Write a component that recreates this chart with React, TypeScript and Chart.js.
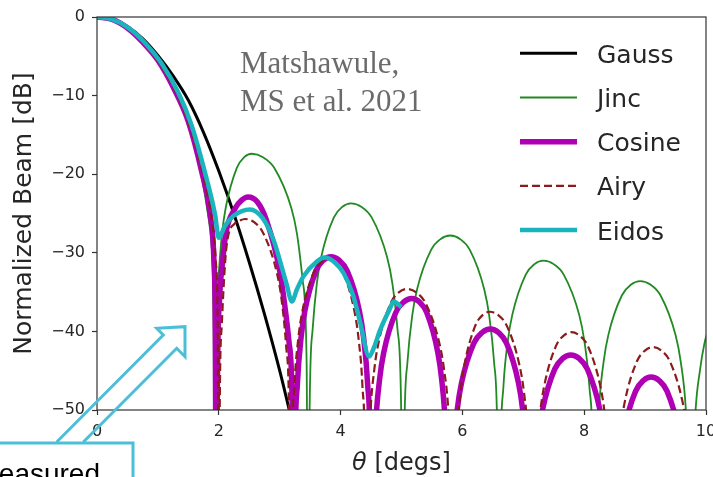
import React, { useEffect, useRef } from "react";
import { Chart, registerables } from "chart.js";

Chart.register(...registerables);

// Normalized beam patterns, theta in degrees, level in dB (values below -50 dB fall outside the axes).
const gaussTheta = [0, 0.25, 0.5, 0.75, 1.0, 1.25, 1.5, 1.75, 2.0, 2.25, 2.5, 2.75, 3.0, 3.25];
const gaussDb = [0, -0.3, -1.2, -2.75, -4.9, -7.5, -10.6, -14.7, -19.6, -25.1, -31.2, -37.8, -45.0, -53.0];

const jincTheta = [
  0, 0.25, 0.5, 0.75, 1.0, 1.25, 1.5, 1.7, 1.82, 1.88, 1.915, 1.93,
  1.948, 1.991, 2.052, 2.113, 2.296, 2.418, 2.54, 2.726, 2.912, 3.191, 3.284, 3.377, 3.442, 3.47,
  3.491, 3.54, 3.61, 3.68, 3.89, 4.03, 4.17, 4.34, 4.51, 4.765, 4.85, 4.935, 4.995, 5.02,
  5.043, 5.098, 5.176, 5.254, 5.488, 5.644, 5.8, 5.96, 6.12, 6.36, 6.44, 6.52, 6.576, 6.6,
  6.622, 6.673, 6.746, 6.819, 7.038, 7.184, 7.33, 7.498, 7.666, 7.918, 8.002, 8.086, 8.145, 8.17,
  8.193, 8.245, 8.32, 8.395, 8.62, 8.77, 8.92, 9.086, 9.252, 9.501, 9.584, 9.667, 9.725, 9.75,
  9.772, 9.825, 9.9, 9.975, 10.05,
];
const jincDb = [
  0, -0.3, -1.4, -3.2, -5.6, -8.9, -13.5, -19.6, -25, -29, -40, -80,
  -43.9, -33.5, -27.6, -24.3, -19.2, -17.84, -17.4, -17.84, -19.2, -24.3, -27.6, -33.5, -43.9, -80,
  -50.2, -39.8, -33.9, -30.6, -25.5, -24.14, -23.7, -24.14, -25.5, -30.6, -33.9, -39.8, -50.2, -80,
  -54.3, -43.9, -38.0, -34.7, -29.6, -28.24, -27.8, -28.24, -29.6, -34.7, -38.0, -43.9, -54.3, -80,
  -57.5, -47.1, -41.2, -37.9, -32.8, -31.44, -31.0, -31.44, -32.8, -37.9, -41.2, -47.1, -57.5, -80,
  -60.1, -49.7, -43.8, -40.5, -35.4, -34.04, -33.6, -34.04, -35.4, -40.5, -43.8, -49.7, -60.1, -80,
  -61, -50.5, -45, -41.5, -39.5,
];

const cosineTheta = [
  0, 0.25, 0.5, 0.75, 1.0, 1.25, 1.5, 1.72, 1.86, 1.92, 1.945, 1.96,
  1.976, 2.012, 2.064, 2.116, 2.272, 2.376, 2.48, 2.63, 2.78, 3.005, 3.08, 3.155, 3.208, 3.23,
  3.248, 3.291, 3.352, 3.413, 3.596, 3.718, 3.84, 3.974, 4.108, 4.309, 4.376, 4.443, 4.49, 4.51,
  4.53, 4.576, 4.642, 4.708, 4.906, 5.038, 5.17, 5.292, 5.414, 5.597, 5.658, 5.719, 5.762, 5.78,
  5.8, 5.848, 5.916, 5.984, 6.188, 6.324, 6.46, 6.592, 6.724, 6.922, 6.988, 7.054, 7.1, 7.12,
  7.14, 7.186, 7.252, 7.318, 7.516, 7.648, 7.78, 7.916, 8.052, 8.256, 8.324, 8.392, 8.44, 8.46,
  8.479, 8.524, 8.588, 8.652, 8.844, 8.972, 9.1, 9.23, 9.36, 9.555, 9.62, 9.685, 9.73, 9.75,
  10.0,
];
const cosineDb = [
  0, -0.3, -1.4, -3.2, -5.5, -8.9, -13.3, -19.7, -25.2, -31, -42, -80,
  -48, -36, -31, -27.5, -24.3, -23.3, -22.9, -23.5, -25.8, -32.5, -36.5, -41.5, -50.5, -80,
  -57, -46.6, -40.7, -37.4, -32.3, -30.94, -30.5, -30.94, -32.3, -37.4, -40.7, -46.6, -57, -80,
  -62.3, -51.9, -46.0, -42.7, -37.6, -36.24, -35.8, -36.24, -37.6, -42.7, -46.0, -51.9, -62.3, -80,
  -66.2, -55.8, -49.9, -46.6, -41.5, -40.14, -39.7, -40.14, -41.5, -46.6, -49.9, -55.8, -66.2, -80,
  -69.5, -59.1, -53.2, -49.9, -44.8, -43.44, -43.0, -43.44, -44.8, -49.9, -53.2, -59.1, -69.5, -80,
  -72.3, -61.9, -56, -52.7, -47.6, -46.24, -45.8, -46.24, -47.6, -52.7, -56, -61.9, -72.3, -80,
  -60,
];

const airyTheta = [
  0, 0.25, 0.5, 0.75, 1.0, 1.25, 1.5, 1.73, 1.88, 1.95, 1.985, 2.0,
  2.015, 2.05, 2.13, 2.26, 2.344, 2.43, 2.58, 2.73, 2.955, 3.03, 3.105, 3.158, 3.18,
  3.199, 3.242, 3.304, 3.366, 3.552, 3.676, 3.8, 3.924, 4.048, 4.234, 4.296, 4.358, 4.401, 4.42,
  4.44, 4.487, 4.554, 4.621, 4.822, 4.956, 5.09, 5.242, 5.394, 5.622, 5.698, 5.774, 5.827, 5.85,
  5.868, 5.91, 5.97, 6.03, 6.21, 6.33, 6.45, 6.59, 6.73, 6.94, 7.01, 7.08, 7.129, 7.15,
  7.169, 7.214, 7.278, 7.342, 7.534, 7.662, 7.79, 7.926, 8.062, 8.266, 8.334, 8.402, 8.45, 8.47,
  8.49, 8.536, 8.602, 8.668, 8.866, 8.998, 9.13, 9.268, 9.406, 9.613, 9.682, 9.751, 9.799, 9.82,
  10.0,
];
const airyDb = [
  0, -0.3, -1.4, -3.2, -5.6, -8.9, -13.4, -19.7, -25.5, -31, -42, -80,
  -50, -39, -29, -26.3, -25.9, -25.7, -26.1, -27.5, -32.6, -35.9, -41.8, -52.2, -80,
  -57.3, -46.9, -41.0, -37.7, -32.6, -31.24, -30.8, -31.24, -32.6, -37.7, -41.0, -46.9, -57.3, -80,
  -61.1, -50.7, -44.8, -41.5, -36.4, -35.04, -34.6, -35.04, -36.4, -41.5, -44.8, -50.7, -61.1, -80,
  -64, -53.6, -47.7, -44.4, -39.3, -37.94, -37.5, -37.94, -39.3, -44.4, -47.7, -53.6, -64, -80,
  -66.6, -56.2, -50.3, -47, -41.9, -40.54, -40.1, -40.54, -41.9, -47, -50.3, -56.2, -66.6, -80,
  -68.5, -58.1, -52.2, -48.9, -43.8, -42.44, -42.0, -42.44, -43.8, -48.9, -52.2, -58.1, -68.5, -80,
  -53,
];

const eidosTheta = [
  0, 0.25, 0.51, 0.79, 1.06, 1.34, 1.55, 1.77, 1.94, 2.0, 2.1, 2.24, 2.38, 2.51,
  2.72, 2.9, 3.11, 3.2, 3.28, 3.39, 3.61, 3.74, 3.9, 4.05, 4.2, 4.32, 4.47, 4.55,
  4.65, 4.81, 4.87, 5.0,
];
const eidosDb = [
  0, -0.3, -1.35, -3.3, -5.9, -9.7, -13.7, -19.7, -25.2, -28.1, -26.6, -25.3, -24.7, -24.5,
  -25.6, -28.4, -33.9, -36.2, -34.7, -33.0, -31.1, -30.6, -31.2, -32.6, -35.3, -38.8, -43.2, -42.0,
  -39.8, -37.1, -36.2, -36.9,
];

const thetaTicks = { min: 0, max: 10, step: 2 };
const dbTicks = { min: -50, max: 0, step: 10 };

const series = [
  { label: "Gauss", theta: gaussTheta, db: gaussDb, color: "#000000", width: 3, dash: [] as number[] },
  { label: "Jinc", theta: jincTheta, db: jincDb, color: "#228a22", width: 1.8, dash: [] as number[] },
  { label: "Cosine", theta: cosineTheta, db: cosineDb, color: "#b000b4", width: 5.5, dash: [] as number[] },
  { label: "Airy", theta: airyTheta, db: airyDb, color: "#8b1c1c", width: 2.2, dash: [8, 4] },
  { label: "Eidos", theta: eidosTheta, db: eidosDb, color: "#19b4be", width: 4.5, dash: [] as number[] },
];

const TEXT = "#262626";
const SANS = '"DejaVu Sans"';

// Frame, in-axes legend, citation note and the x-axis title with an italic theta.
const decorPlugin = {
  id: "decor",
  afterDatasetsDraw(chart: any) {
    const { ctx, chartArea: a } = chart;
    ctx.save();
    ctx.strokeStyle = "#333";
    ctx.lineWidth = 1.2;
    ctx.strokeRect(a.left, a.top, a.right - a.left, a.bottom - a.top);

    chart.data.datasets.forEach((ds: any, i: number) => {
      const y = 53.3 + 44.2 * i;
      ctx.strokeStyle = ds.borderColor;
      ctx.lineWidth = ds.borderWidth;
      ctx.setLineDash(ds.borderDash || []);
      ctx.beginPath();
      ctx.moveTo(520, y);
      ctx.lineTo(577, y);
      ctx.stroke();
      ctx.setLineDash([]);
      ctx.fillStyle = TEXT;
      ctx.font = `25px ${SANS}`;
      ctx.textBaseline = "alphabetic";
      ctx.textAlign = "left";
      ctx.fillText(ds.label, 597, y + 9.5);
    });

    ctx.fillStyle = "#6b6b6b";
    ctx.font = '31px "Liberation Serif"';
    ctx.fillText("Matshawule,", 240, 72.7);
    ctx.fillText("MS et al. 2021", 240, 111);

    const cx = (a.left + a.right) / 2;
    ctx.font = `italic 24px ${SANS}`;
    const w1 = ctx.measureText("\u03b8").width;
    ctx.font = `24px ${SANS}`;
    const w2 = ctx.measureText(" [degs]").width;
    const x0 = cx - (w1 + w2) / 2;
    ctx.fillStyle = TEXT;
    ctx.font = `italic 24px ${SANS}`;
    ctx.fillText("\u03b8", x0, 470);
    ctx.font = `24px ${SANS}`;
    ctx.fillText(" [degs]", x0 + w1, 470);
    ctx.restore();
  },
};

export default function App() {
  const canvasRef = useRef<HTMLCanvasElement | null>(null);

  useEffect(() => {
    if (!canvasRef.current) return;
    const tickGrid = {
      drawOnChartArea: false,
      drawTicks: true,
      tickLength: 5,
      tickWidth: 1.2,
      tickColor: "#333",
    };
    const chart = new Chart(canvasRef.current, {
      type: "line",
      data: {
        datasets: series.map((s, i) => ({
          label: s.label,
          data: s.theta.map((t, k) => ({ x: t, y: s.db[k] })),
          borderColor: s.color,
          backgroundColor: s.color,
          borderWidth: s.width,
          borderDash: s.dash,
          borderJoinStyle: "round" as const,
          pointRadius: 0,
          fill: false,
          cubicInterpolationMode: "monotone" as const,
          clip: 0,
          order: series.length - i,
        })),
      },
      options: {
        animation: false,
        responsive: false,
        events: [],
        layout: { padding: { top: 17, right: 7, left: 0, bottom: 0 } },
        elements: { line: { capBezierPoints: false } },
        plugins: { legend: { display: false }, tooltip: { enabled: false } },
        scales: {
          x: {
            type: "linear",
            min: thetaTicks.min,
            max: thetaTicks.max,
            ticks: {
              stepSize: thetaTicks.step,
              padding: 7,
              maxRotation: 0,
              autoSkip: false,
              color: TEXT,
              font: { family: "DejaVu Sans", size: 16 },
            },
            grid: tickGrid,
            border: { display: false },
            afterFit: (s: any) => {
              s.height = 67;
              s.paddingLeft = 0;
              s.paddingRight = 0;
            },
          },
          y: {
            type: "linear",
            min: dbTicks.min,
            max: dbTicks.max,
            ticks: {
              stepSize: dbTicks.step,
              padding: 7,
              color: TEXT,
              font: { family: "DejaVu Sans", size: 16 },
              callback: (v: any) => String(v).replace("-", "\u2212"),
            },
            grid: tickGrid,
            border: { display: false },
            title: {
              display: true,
              text: "Normalized Beam [dB]",
              color: TEXT,
              font: { family: "DejaVu Sans", size: 25 },
              padding: { top: 9, bottom: 0 },
            },
            afterFit: (s: any) => {
              s.width = 97;
              s.paddingTop = 0;
              s.paddingBottom = 0;
            },
          },
        },
      },
      plugins: [decorPlugin],
    } as any);
    return () => chart.destroy();
  }, []);

  const blue = "#4cbfd8";
  return (
    <div
      style={{
        position: "absolute",
        left: 0,
        top: 0,
        width: 713,
        height: 477,
        overflow: "hidden",
        background: "#ffffff",
      }}
    >
      <canvas ref={canvasRef} width={713} height={477} style={{ display: "block" }} />
      <svg
        width={713}
        height={477}
        style={{ position: "absolute", left: 0, top: 0, pointerEvents: "none" }}
      >
        <polyline
          points="56.7,442 163.3,335 156.7,328.3 185,326.7 185,356.7 176.7,348.3 83.3,442"
          fill="none"
          stroke={blue}
          strokeWidth={3}
          strokeLinejoin="miter"
        />
        <rect x={-10} y={443} width={143} height={60} fill="none" stroke={blue} strokeWidth={3} />
        <text
          x={100}
          y={482.5}
          textAnchor="end"
          fontFamily="Liberation Sans"
          fontSize={28}
          fill="#000000"
        >
          measured
        </text>
      </svg>
    </div>
  );
}
